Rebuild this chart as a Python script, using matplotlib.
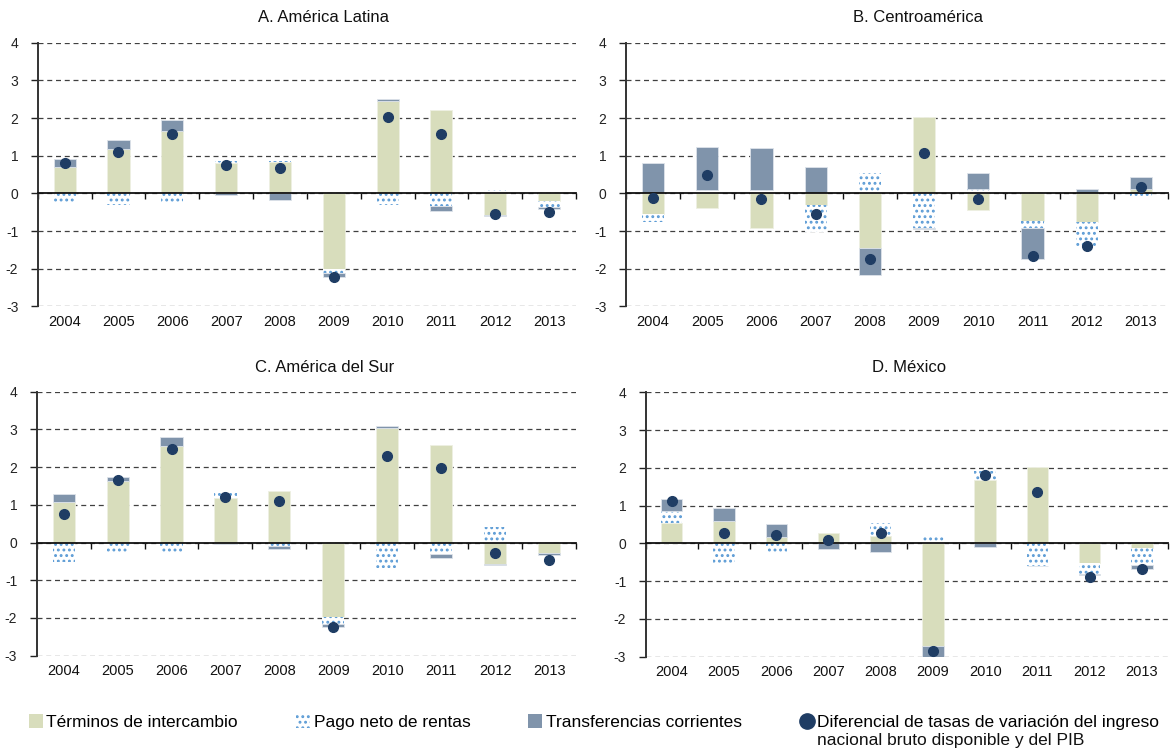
import matplotlib
matplotlib.use("Agg")
import matplotlib.pyplot as plt
from matplotlib.patches import Patch
from matplotlib.lines import Line2D
import numpy as np

plt.rcParams['font.family'] = ['Liberation Sans', 'DejaVu Sans']
plt.rcParams['axes.unicode_minus'] = False
plt.rcParams['hatch.linewidth'] = 1.3

years = ['2004', '2005', '2006', '2007', '2008', '2009', '2010', '2011', '2012', '2013']

# A. America Latina
al_terminos = [0.71, 1.18, 1.65, 0.80, 0.84, -2.00, 2.45, 2.21, -0.57, -0.20]
al_rentas = [-0.22, -0.30, -0.29, 0.06, 0.02, -0.10, -0.32, -0.33, 0.08, -0.17]
al_transf = [0.21, 0.23, 0.29, -0.03, -0.17, -0.12, 0.05, -0.13, -0.03, -0.03]
al_dif = [0.80, 1.10, 1.58, 0.75, 0.68, -2.23, 2.02, 1.59, -0.54, -0.48]

# B. Centroamerica
ca_terminos = [-0.55, -0.39, -0.91, -0.31, -1.46, 2.04, -0.44, -0.73, -0.77, 0.12]
ca_rentas = [-0.20, 0.10, 0.08, -0.72, 0.55, -0.93, 0.13, -0.20, -0.65, -0.13]
ca_transf = [0.82, 1.14, 1.13, 0.70, -0.70, -0.02, 0.40, -0.80, 0.12, 0.31]
ca_dif = [-0.12, 0.50, -0.16, -0.54, -1.74, 1.06, -0.16, -1.66, -1.40, 0.18]

# C. America del Sur
as_terminos = [1.08, 1.64, 2.57, 1.19, 1.38, -1.97, 3.05, 2.58, -0.58, -0.29]
as_rentas = [-0.51, -0.24, -0.27, 0.13, -0.09, -0.20, -0.67, -0.31, 0.42, 0.00]
as_transf = [0.20, 0.11, 0.22, -0.04, -0.08, -0.06, 0.05, -0.10, -0.02, -0.05]
as_dif = [0.76, 1.65, 2.49, 1.21, 1.11, -2.24, 2.30, 1.98, -0.29, -0.45]

# D. Mexico
mx_terminos = [0.53, 0.60, 0.18, 0.27, 0.20, -2.73, 1.69, 2.02, -0.51, -0.13]
mx_rentas = [0.32, -0.58, -0.24, 0.00, 0.33, 0.20, 0.22, -0.59, -0.31, -0.44]
mx_transf = [0.32, 0.33, 0.32, -0.14, -0.24, -0.27, -0.09, -0.01, -0.03, -0.10]
mx_dif = [1.13, 0.27, 0.21, 0.10, 0.28, -2.84, 1.81, 1.37, -0.89, -0.67]

c_green = '#d8ddbc'
c_dots = '#5b9bd5'
c_gray = '#8094ab'
c_navy = '#1f3d64'

styles = [
    dict(color=c_green, edgecolor='#eef0e2', linewidth=0.6),
    dict(facecolor='white', edgecolor=c_dots, hatch='...', linewidth=0),
    dict(color=c_gray, edgecolor='#dde3ea', linewidth=0.6),
]

panels = [
    ('A. América Latina', [0.0322, 0.5908, 0.4593, 0.3522], (323, 18),
     [al_terminos, al_rentas, al_transf], al_dif),
    ('B. Centroamérica', [0.5341, 0.5908, 0.4625, 0.3522], (918, 18),
     [ca_terminos, ca_rentas, ca_transf], ca_dif),
    ('C. América del Sur', [0.0313, 0.1246, 0.4602, 0.3524], (325, 368),
     [as_terminos, as_rentas, as_transf], as_dif),
    ('D. México', [0.5509, 0.1234, 0.4457, 0.3528], (909, 368),
     [mx_terminos, mx_rentas, mx_transf], mx_dif),
]

W, H = 1172, 749
fig = plt.figure(figsize=(W / 100, H / 100), dpi=100)

x = np.arange(len(years))
width = 0.41

for title, rect, tpos, series, dif in panels:
    ax = fig.add_axes(rect)
    # Excel style stacking: positives go up from 0, negatives go down from 0
    pos = np.zeros(len(x))
    neg = np.zeros(len(x))
    for vals, st in zip(series, styles):
        vals = np.array(vals)
        bottom = np.where(vals >= 0, pos, neg)
        ax.bar(x, vals, width, bottom=bottom, zorder=1, **st)
        pos += np.clip(vals, 0, None)
        neg += np.clip(vals, None, 0)
    ax.plot(x, dif, 'o', color=c_navy, markersize=7, zorder=4, linestyle='none')

    ax.set_xlim(-0.5, 9.5)
    ax.set_ylim(-3, 4)
    ax.set_yticks(range(-3, 5))
    ax.set_axisbelow(True)
    ax.yaxis.grid(True, linestyle=(0, (4, 3)), color='#404040', linewidth=0.9)
    ax.tick_params(axis='y', direction='out', length=5, width=1, pad=9,
                   labelsize=10, colors='#222222')

    for s in ['top', 'right']:
        ax.spines[s].set_visible(False)
    ax.spines['left'].set_color('#333333')
    ax.spines['left'].set_linewidth(1.4)
    ax.spines['bottom'].set_position(('data', 0))
    ax.spines['bottom'].set_color('#111111')
    ax.spines['bottom'].set_linewidth(1.3)
    ax.spines['bottom'].set_zorder(3)
    ax.set_xticks(np.arange(-0.5, 10, 1))
    ax.set_xticklabels([])
    ax.tick_params(axis='x', direction='out', length=4, width=1, color='#111111')

    # year labels sit below the plot, not on the zero line
    sec = ax.secondary_xaxis(0)
    sec.set_xticks(x)
    sec.set_xticklabels(years)
    sec.tick_params(axis='x', length=0, pad=6, labelsize=10.5, colors='#111111')
    sec.spines['bottom'].set_visible(False)

    fig.text(tpos[0] / W, 1 - tpos[1] / H, title, ha='center', va='center',
             fontsize=12, color='#111111')

handles = [
    Patch(facecolor=c_green, edgecolor='none'),
    Patch(facecolor='white', edgecolor=c_dots, hatch='...', linewidth=0),
    Patch(facecolor=c_gray, edgecolor='none'),
    Line2D([], [], marker='o', linestyle='none', color=c_navy, markersize=11),
]
labels = ['Términos de intercambio', 'Pago neto de rentas', 'Transferencias corrientes',
          'Diferencial de tasas de variación del ingreso']
leg = fig.legend(handles, labels, loc='center left', bbox_to_anchor=(29 / W, 1 - 722 / H),
                 ncol=4, frameon=False, fontsize=12.5, handlelength=0.8, handleheight=0.85,
                 handletextpad=0.2, columnspacing=3.35, borderpad=0, borderaxespad=0)

fig.canvas.draw()
last = leg.get_texts()[-1]
bb = last.get_window_extent()
fig.text(bb.x0 / W, (bb.y0 + bb.y1) / 2 / H - 18 / H, 'nacional bruto disponible y del PIB',
         fontsize=12.5, ha='left', va='center', color='#111111')

fig.savefig('out.png', dpi=100)
